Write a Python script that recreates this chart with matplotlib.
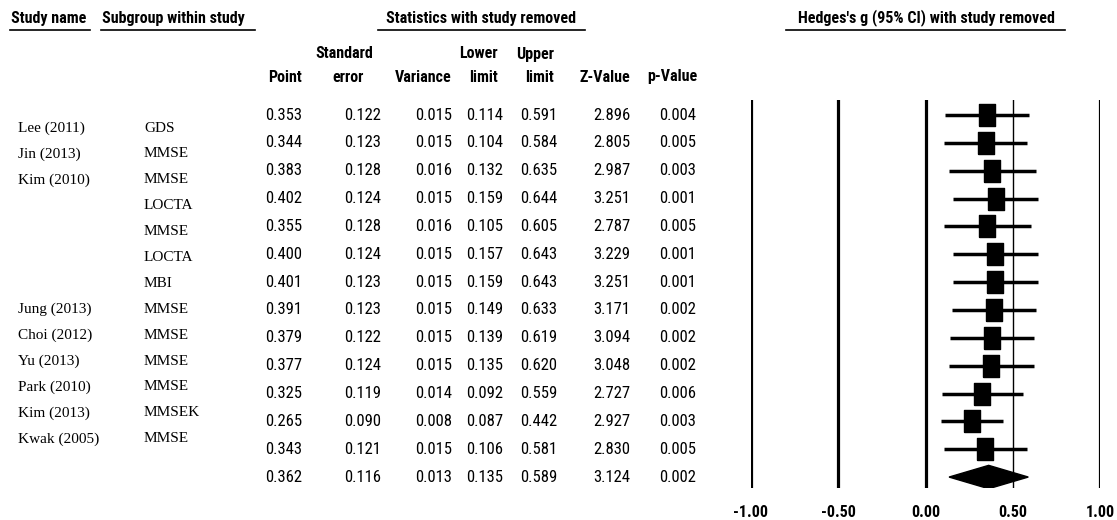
import numpy as np
import matplotlib
matplotlib.use('Agg')
import matplotlib.pyplot as plt
from matplotlib import font_manager as fm

# --- data ---
study_names = ['Lee (2011)', 'Jin (2013)', 'Kim (2010)', '', '', '', '',
               'Jung (2013)', 'Choi (2012)', 'Yu (2013)', 'Park (2010)', 'Kim (2013)', 'Kwak (2005)']
subgroups = ['GDS', 'MMSE', 'MMSE', 'LOCTA', 'MMSE', 'LOCTA', 'MBI',
             'MMSE', 'MMSE', 'MMSE', 'MMSE', 'MMSEK', 'MMSE']

point = [0.353, 0.344, 0.383, 0.402, 0.355, 0.400, 0.401, 0.391, 0.379, 0.377, 0.325, 0.265, 0.343, 0.362]
std_err = [0.122, 0.123, 0.128, 0.124, 0.128, 0.124, 0.123, 0.123, 0.122, 0.124, 0.119, 0.090, 0.121, 0.116]
variance = [0.015, 0.015, 0.016, 0.015, 0.016, 0.015, 0.015, 0.015, 0.015, 0.015, 0.014, 0.008, 0.015, 0.013]
lower = [0.114, 0.104, 0.132, 0.159, 0.105, 0.157, 0.159, 0.149, 0.139, 0.135, 0.092, 0.087, 0.106, 0.135]
upper = [0.591, 0.584, 0.635, 0.644, 0.605, 0.643, 0.643, 0.633, 0.619, 0.620, 0.559, 0.442, 0.581, 0.589]
z_value = [2.896, 2.805, 2.987, 3.251, 2.787, 3.229, 3.251, 3.171, 3.094, 3.048, 2.727, 2.927, 2.830, 3.124]
p_value = [0.004, 0.005, 0.003, 0.001, 0.005, 0.001, 0.001, 0.002, 0.002, 0.002, 0.006, 0.003, 0.005, 0.002]

axis_ticks = [-1.0, -0.5, 0.0, 0.5, 1.0]

# 細いサンセリフ（Arial Narrow 相当）を探す
installed = {f.name for f in fm.fontManager.ttflist}
narrow_font = None
for cand in ['Liberation Sans Narrow', 'Arial Narrow', 'Roboto Condensed', 'Open Sans Condensed']:
    if cand in installed:
        narrow_font = cand
        break
if narrow_font:
    SANS = [narrow_font, 'DejaVu Sans']
    fs_num, fs_head = 12, 11.5
else:
    SANS = ['Liberation Sans', 'DejaVu Sans']
    fs_num, fs_head = 10, 9.6
SERIF = ['Liberation Serif', 'DejaVu Serif']

W, H = 1117, 520
fig = plt.figure(figsize=(W / 100, H / 100), dpi=100)

# 表部分はピクセル座標の全面 axes に描く
tab = fig.add_axes([0, 0, 1, 1])
tab.set_xlim(0, W)
tab.set_ylim(H, 0)
tab.axis('off')

row0, row_step = 115, 27.85      # 数値の行
name0, name_step = 128, 25.9     # 研究名の行（元図ではずれている）

# --- 見出し ---
headers = [('Study name', 11, 10, 90),
           ('Subgroup within study', 102, 101, 255),
           ('Statistics with study removed', 481, 378, 585),
           ("Hedges's g (95% CI) with study removed", 926, 786, 1065)]
for i, (txt, x, l, r) in enumerate(headers):
    ha = 'left' if i < 2 else 'center'
    tab.text(x, 18, txt, ha=ha, va='center', fontsize=fs_head, fontweight='bold', family=SANS)
    tab.plot([l, r], [30, 30], color='black', lw=1.2)

col_right = [302, 381, 452, 503, 557, 630, 696]
# (上段, 上段右端, 下段, 下段右端)
col_head = [('', 0, 'Point', 302), ('Standard', 373, 'error', 364), ('', 0, 'Variance', 452),
            ('Lower', 498, 'limit', 498), ('Upper', 554, 'limit', 554),
            ('', 0, 'Z-Value', 630), ('', 0, 'p-Value', 697)]
for h1, x1, h2, x2 in col_head:
    if h1:
        tab.text(x1, 54, h1, ha='right', va='center', fontsize=fs_head, fontweight='bold', family=SANS)
    tab.text(x2, 77, h2, ha='right', va='center', fontsize=fs_head, fontweight='bold', family=SANS)

# --- 数値 ---
cols = [point, std_err, variance, lower, upper, z_value, p_value]
for i in range(len(point)):
    y = row0 + row_step * i
    for x, vals in zip(col_right, cols):
        tab.text(x, y, f'{vals[i]:.3f}', ha='right', va='center', fontsize=fs_num, family=SANS)

for i, (nm, sg) in enumerate(zip(study_names, subgroups)):
    y = name0 + name_step * i
    tab.text(18, y, nm, ha='left', va='center', fontsize=11, family=SERIF)
    tab.text(144, y, sg, ha='left', va='center', fontsize=11, family=SERIF)

# --- フォレストプロット ---
x_left, x_right = 751, 1100
y_top, y_bot = 100, 488
fa = fig.add_axes([x_left / W, 1 - y_bot / H, (x_right - x_left) / W, (y_bot - y_top) / H])
fa.patch.set_alpha(0)
n = len(point)
fa.set_xlim(-1, 1)
fa.set_ylim(13 + (y_bot - (row0 + row_step * 13)) / row_step, -(row0 - y_top) / row_step)
for s in fa.spines.values():
    s.set_visible(False)

for t in axis_ticks:
    fa.axvline(t, color='black', lw=1.0 if t == 0.5 else 2.3, zorder=1)

box = [(-0.36, -0.5), (0.36, -0.5), (0.36, 0.5), (-0.36, 0.5), (-0.36, -0.5)]
rows = np.arange(n)
for i in range(n - 1):
    fa.plot([lower[i], upper[i]], [rows[i], rows[i]], color='black', lw=2.5, solid_capstyle='butt', zorder=2)
    fa.plot(point[i], rows[i], marker=box, markersize=15.5, color='black', zorder=3)

# 全体の推定値（ダイヤ）
k = n - 1
h = 0.42
fa.fill([lower[k], point[k], upper[k], point[k]], [k, k - h, k, k + h], color='black', zorder=3)

fa.set_yticks([])
fa.set_xticks(axis_ticks)
fa.set_xticklabels([f'{t:.2f}' for t in axis_ticks], fontsize=fs_head, fontweight='bold', family=SANS)
fa.tick_params(axis='x', length=0, pad=12)

fig.savefig('out.png', dpi=100)
